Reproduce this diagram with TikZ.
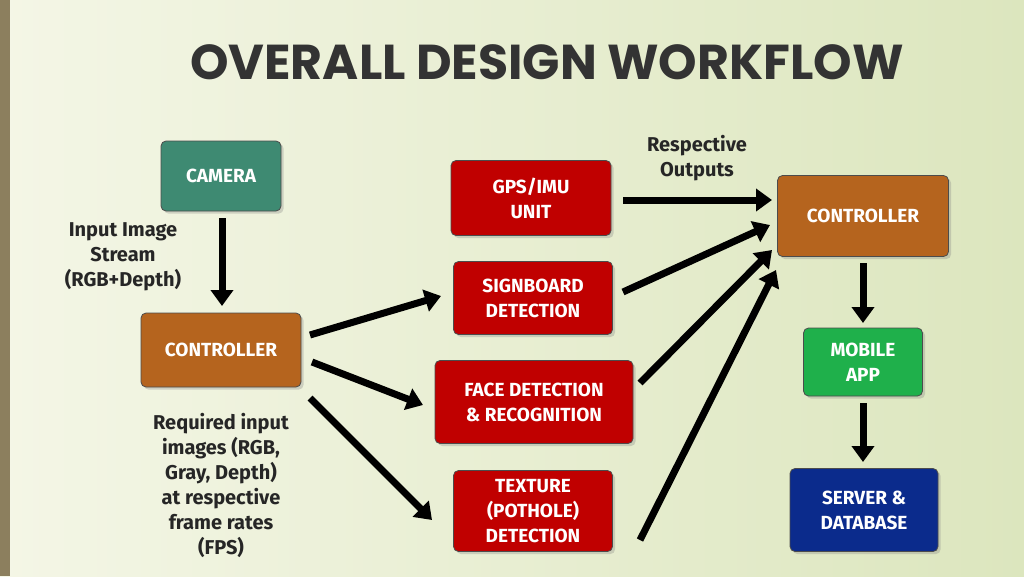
\documentclass[tikz,border=0pt]{standalone}
\usepackage{fontspec}
\setmainfont{Fira Sans}
\newfontfamily\titlefont{Poppins}
\usetikzlibrary{arrows.meta,shadows}
\definecolor{bgA}{HTML}{F4F6E6}
\definecolor{bgB}{HTML}{DCE6BE}
\definecolor{camgreen}{HTML}{3E8A72}
\definecolor{boxred}{HTML}{C00000}
\definecolor{boxbrown}{HTML}{B5641E}
\definecolor{appgreen}{HTML}{1FB04B}
\definecolor{srvblue}{HTML}{0B2B8C}
\definecolor{strip}{HTML}{8C7F5E}
\tikzset{
  blk/.style={draw=black!70, line width=0.8pt, rounded corners=5pt, text=white,
    font=\bfseries\fontsize{19}{25}\selectfont, align=center, drop shadow={opacity=0.3}},
  lbl/.style={font=\bfseries\fontsize{20}{25}\selectfont, align=center, text=black!85},
  flow/.style={line width=7pt, draw=black, -{Triangle[length=16pt,width=22pt]}}
}
\begin{document}
\begin{tikzpicture}[x=1pt,y=-1pt]
	\shade[left color=bgA, right color=bgB] (0,0) rectangle (1024,576);
	\useasboundingbox (0,0) rectangle (1024,576);
	\fill[strip] (0,0) rectangle (10,576);
	\node[font=\titlefont\bfseries\fontsize{49}{55}\selectfont, text=black!80] (title) at (547,62) {OVERALL DESIGN WORKFLOW};

	\node[blk, fill=camgreen, minimum width=120, minimum height=70] (camera) at (221,176) {CAMERA};
	\node[blk, fill=boxbrown, minimum width=160, minimum height=74] (ctrlL) at (221,350) {CONTROLLER};
	\node[blk, fill=boxred, minimum width=160, minimum height=75] (gps) at (531,198) {GPS/IMU\\UNIT};
	\node[blk, fill=boxred, minimum width=159, minimum height=73] (sign) at (533,298) {SIGNBOARD\\DETECTION};
	\node[blk, fill=boxred, minimum width=198, minimum height=83] (face) at (534,402) {FACE DETECTION\\\& RECOGNITION};
	\node[blk, fill=boxred, minimum width=159, minimum height=81] (tex) at (533,511) {TEXTURE\\(POTHOLE)\\DETECTION};
	\node[blk, fill=boxbrown, minimum width=171, minimum height=81] (ctrlR) at (863,216) {CONTROLLER};
	\node[blk, fill=appgreen, minimum width=119, minimum height=68] (app) at (863,362) {MOBILE\\APP};
	\node[blk, fill=srvblue, minimum width=148, minimum height=83] (srv) at (864,510) {SERVER \&\\DATABASE};

	\node[lbl] (outs) at (697,158) {Respective\\Outputs};
	\node[lbl] (stream) at (123,257) {Input Image\\Stream\\(RGB+Depth)};
	\node[lbl] (req) at (221,485) {Required input\\images (RGB,\\Gray, Depth)\\at respective\\frame rates\\(FPS)};

	\coordinate (s1) at (310,335); \coordinate (s2) at (312,362); \coordinate (s3) at (310,398);
	\coordinate (r0) at (623,200); \coordinate (r1) at (623,292); \coordinate (r2) at (640,383); \coordinate (r3) at (640,540);
	\coordinate (e0) at (772,200);

	\draw[flow] (222,218) -- (222,306);
	\draw[flow] (s1) -- (441,296);
	\draw[flow] (s2) -- (423,405);
	\draw[flow] (s3) -- (432,520);
	\draw[flow] (r0) -- (e0);
	\draw[flow] (r1) -- (770,225);
	\draw[flow] (r2) -- (772,250);
	\draw[flow] (r3) -- (776,270);
	\draw[flow] (863,263) -- (863,323);
	\draw[flow] (863,403) -- (863,462);
\end{tikzpicture}
\end{document}
